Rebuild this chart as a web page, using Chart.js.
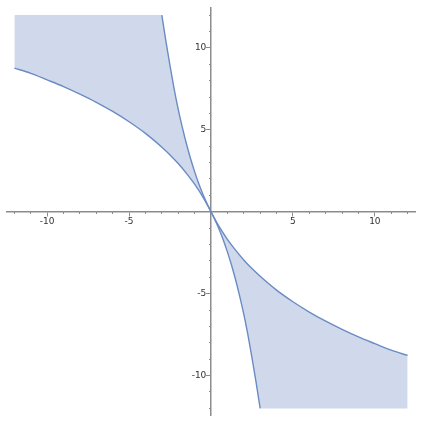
<!DOCTYPE html>
<html>
<head>
<meta charset="utf-8">
<script src="https://cdn.jsdelivr.net/npm/chart.js@4/dist/chart.umd.min.js"></script>
<style>
  html, body { margin: 0; padding: 0; background: #fff; }
  #wrap { width: 423px; height: 423px; }
</style>
</head>
<body>
<div id="wrap"><canvas id="chart"></canvas></div>
<script>
// values
const axisMin = -12.45;
const axisMax = 12.45;

// shallow curve (through the origin, ends at x = +/-12)
const shallowX = [-12, -11, -10, -9, -8, -7, -6, -5, -4, -3, -2.5, -2, -1.5, -1, -0.5, 0,
                  0.5, 1, 1.5, 2, 2.5, 3, 4, 5, 6, 7, 8, 9, 10, 11, 12];
const shallowY = [8.77, 8.45, 8.05, 7.64, 7.18, 6.68, 6.12, 5.49, 4.78, 3.94, 3.47, 2.94, 2.34, 1.68, 0.91, 0,
                  -0.91, -1.68, -2.34, -2.94, -3.47, -3.94, -4.78, -5.49, -6.12, -6.68, -7.18, -7.64, -8.05, -8.45, -8.77];

// steep curve (through the origin, ends at y = +/-12)
const steepX = [-3, -2.75, -2.5, -2.25, -2, -1.75, -1.5, -1.25, -1, -0.75, -0.5, -0.25, 0,
                0.25, 0.5, 0.75, 1, 1.25, 1.5, 1.75, 2, 2.25, 2.5, 2.75, 3];
const steepY = [12, 10.4, 8.9, 7.5, 6.25, 5.15, 4.15, 3.25, 2.45, 1.72, 1.08, 0.52, 0,
                -0.52, -1.08, -1.72, -2.45, -3.25, -4.15, -5.15, -6.25, -7.5, -8.9, -10.4, -12];

// the shaded regions are cut off at these limits
const fillTop = 12;
const fillBottom = -12;
const fillLeft = -12;
const fillRight = 12;

const lineColor = '#6a8bc3';
const areaColor = 'rgb(208,217,235)';
const axisColor = '#8c8c8c';
const textColor = '#333333';

function zip(xs, ys) {
    return xs.map((x, i) => ({ x: x, y: ys[i] }));
}

const shallowPts = zip(shallowX, shallowY);
const steepPts = zip(steepX, steepY);

// boundaries of the shaded areas (the other side is the shallow curve)
const upperEdge = [{ x: fillLeft, y: fillTop }].concat(steepPts.filter(p => p.x <= 0));
const lowerEdge = steepPts.filter(p => p.x >= 0).concat([{ x: fillRight, y: fillBottom }]);

// axes sit on the origin, so they should take no room in the layout
function noSize(scale) {
    if (scale.isHorizontal()) scale.height = 0;
    else scale.width = 0;
    scale.paddingTop = 0;
    scale.paddingBottom = 0;
    scale.paddingLeft = 0;
    scale.paddingRight = 0;
}

function majorAxis(pos, vertical) {
    return {
        type: 'linear',
        min: axisMin,
        max: axisMax,
        position: pos,
        afterFit: noSize,
        border: { display: true, color: axisColor, width: 1.5 },
        grid: {
            drawOnChartArea: false,
            tickLength: 4,
            tickWidth: 1,
            tickColor: ctx => (ctx.tick && ctx.tick.value === 0) ? 'rgba(0,0,0,0)' : axisColor
        },
        ticks: {
            stepSize: 5,
            includeBounds: false,
            autoSkip: false,
            maxRotation: 0,
            padding: 1,
            color: textColor,
            font: { family: 'DejaVu Sans', size: 9 },
            // y labels are right-aligned on the axis line, keep a small gap
            callback: v => v === 0 ? '' : (vertical ? String(v) + ' \u2009' : String(v))
        }
    };
}

function minorAxis(pos) {
    return {
        type: 'linear',
        min: axisMin,
        max: axisMax,
        position: pos,
        afterFit: noSize,
        border: { display: false },
        grid: {
            drawOnChartArea: false,
            tickLength: 2,
            tickWidth: 1,
            tickColor: ctx => (ctx.tick && ctx.tick.value % 5 === 0) ? 'rgba(0,0,0,0)' : axisColor
        },
        ticks: {
            stepSize: 1,
            includeBounds: false,
            autoSkip: false,
            maxTicksLimit: 100,
            maxRotation: 0,
            callback: () => ''
        }
    };
}

const ctx = document.getElementById('chart').getContext('2d');
const myChart = new Chart(ctx, {
    type: 'scatter',
    data: {
        datasets: [{
            data: shallowPts,
            showLine: true,
            borderColor: lineColor,
            borderWidth: 1.4,
            pointRadius: 0,
            fill: false,
            cubicInterpolationMode: 'monotone'
        }, {
            data: steepPts,
            showLine: true,
            borderColor: lineColor,
            borderWidth: 1.4,
            pointRadius: 0,
            fill: false,
            cubicInterpolationMode: 'monotone'
        }, {
            data: upperEdge,
            showLine: true,
            borderWidth: 0,
            borderColor: 'rgba(0,0,0,0)',
            backgroundColor: areaColor,
            pointRadius: 0,
            fill: 0
        }, {
            data: lowerEdge,
            showLine: true,
            borderWidth: 0,
            borderColor: 'rgba(0,0,0,0)',
            backgroundColor: areaColor,
            pointRadius: 0,
            fill: 0
        }]
    },
    options: {
        responsive: true,
        maintainAspectRatio: false,
        animation: false,
        layout: { padding: { left: 7, top: 7.75, right: 8, bottom: 7.25 } },
        plugins: {
            legend: { display: false },
            tooltip: { enabled: false }
        },
        scales: {
            x: majorAxis({ y: 0 }, false),
            y: majorAxis({ x: 0 }, true),
            x2: Object.assign(minorAxis({ y: 0 }), { axis: 'x' }),
            y2: Object.assign(minorAxis({ x: 0 }), { axis: 'y' })
        }
    }
});
</script>
</body>
</html>
